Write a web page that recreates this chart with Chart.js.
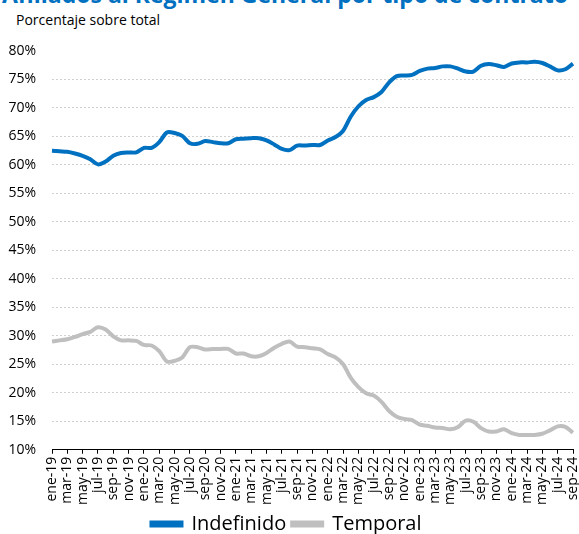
<!DOCTYPE html>
<html>
<head>
<meta charset="utf-8">
<script src="https://cdn.jsdelivr.net/npm/chart.js@4"></script>
<style>
  body { margin: 0; background: #fff; overflow: hidden; }
  #wrap { position: absolute; left: 0; top: 0; width: 579px; height: 534px; }
  #title { position: absolute; left: 2px; top: -22px; white-space: nowrap;
    font: bold 23px "Open Sans", sans-serif; color: #0070C0; }
  #sub { position: absolute; left: 16px; top: 10px; white-space: nowrap;
    font: 14px "Open Sans", sans-serif; color: #000; }
</style>
</head>
<body>
<div id="title">Afiliados al Régimen General por tipo de contrato</div>
<div id="sub">Porcentaje sobre total</div>
<div id="wrap"><canvas id="myChart"></canvas></div>
<script>
// months ene-19 .. sep-24
const months = ["ene","feb","mar","abr","may","jun","jul","ago","sep","oct","nov","dic"];
const labels = [];
for (let y = 19; y <= 24; y++) {
    for (let m = 0; m < 12; m++) {
        if (y === 24 && m > 8) break;
        labels.push(months[m] + "-" + y);
    }
}

const indefinido = [
    62.5, 62.4, 62.3, 62.0, 61.6, 61.0, 60.1, 60.6, 61.6, 62.1, 62.2, 62.2,
    63.0, 63.0, 64.0, 65.7, 65.6, 65.1, 63.8, 63.7, 64.2, 64.0, 63.8, 63.8,
    64.5, 64.6, 64.7, 64.7, 64.3, 63.6, 62.8, 62.6, 63.4, 63.4, 63.5, 63.5,
    64.3, 64.9, 66.0, 68.5, 70.3, 71.4, 71.9, 72.8, 74.5, 75.6, 75.7, 75.8,
    76.5, 76.9, 77.0, 77.3, 77.3, 76.9, 76.4, 76.4, 77.4, 77.7, 77.5, 77.2,
    77.8, 78.0, 78.0, 78.1, 77.9, 77.3, 76.6, 76.8, 77.8
];
const temporal = [
    29.0, 29.2, 29.4, 29.8, 30.3, 30.7, 31.5, 31.1, 29.9, 29.2, 29.2, 29.1,
    28.4, 28.3, 27.3, 25.5, 25.6, 26.2, 28.0, 28.0, 27.6, 27.7, 27.7, 27.7,
    26.9, 26.9, 26.4, 26.4, 27.0, 27.9, 28.6, 29.0, 28.1, 28.0, 27.8, 27.6,
    26.8, 26.2, 25.0, 22.6, 21.0, 19.9, 19.5, 18.4, 16.8, 15.8, 15.4, 15.2,
    14.4, 14.2, 13.9, 13.8, 13.6, 14.0, 15.1, 14.9, 13.8, 13.2, 13.2, 13.6,
    12.9, 12.6, 12.6, 12.6, 12.8, 13.4, 14.1, 14.0, 13.0
];

const font = "'Open Sans', sans-serif";

new Chart("myChart", {
    type: "line",
    data: {
        labels: labels,
        datasets: [{
            label: "Indefinido",
            data: indefinido,
            borderColor: "#0070C0",
            backgroundColor: "#0070C0",
            borderWidth: 4,
            pointRadius: 0,
            tension: 0.3
        }, {
            label: "Temporal",
            data: temporal,
            borderColor: "#BFBFBF",
            backgroundColor: "#BFBFBF",
            borderWidth: 4,
            pointRadius: 0,
            tension: 0.3
        }]
    },
    options: {
        responsive: true,
        maintainAspectRatio: false,
        animation: false,
        layout: { padding: { top: 51, right: 6, left: 0, bottom: -10 } },
        plugins: {
            legend: {
                position: "bottom",
                labels: {
                    boxWidth: 30,
                    boxHeight: 3,
                    padding: 6,
                    color: "#000",
                    font: { family: font, size: 20 }
                }
            },
            tooltip: { enabled: false }
        },
        scales: {
            x: {
                afterFit: function (s) { s.paddingLeft = 0; s.paddingRight = 0; },
                border: { display: true, color: "#000", width: 1 },
                grid: {
                    drawOnChartArea: false,
                    tickLength: 4,
                    color: (c) => (c.index % 2 === 0 ? "#000" : "rgba(0,0,0,0)")
                },
                ticks: {
                    autoSkip: false,
                    maxRotation: 90,
                    minRotation: 90,
                    padding: 3,
                    color: "#000",
                    font: { family: font, size: 14 },
                    callback: function (v, i) { return i % 2 === 0 ? labels[i] : ""; }
                }
            },
            y: {
                min: 10,
                max: 80,
                afterFit: function (s) { s.width = 52; },
                border: { display: false, dash: [2, 2] },
                grid: {
                    drawTicks: false,
                    color: (c) => (c.tick.value === 10 || c.tick.value === 80 ? "rgba(0,0,0,0)" : "#D0D0D0")
                },
                ticks: {
                    stepSize: 5,
                    padding: 16,
                    color: "#000",
                    font: { family: font, size: 14 },
                    callback: (v) => v + "%"
                }
            }
        }
    }
});
</script>
</body>
</html>
